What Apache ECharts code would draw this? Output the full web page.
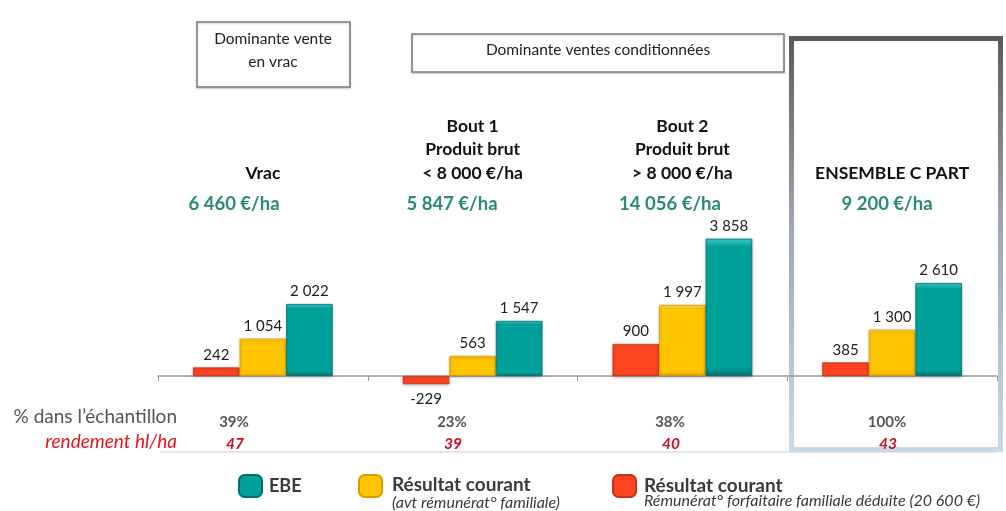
<!DOCTYPE html>
<html><head><meta charset="utf-8">
<script src="https://cdn.jsdelivr.net/npm/echarts@6/dist/echarts.min.js"></script>
<style>html,body{margin:0;padding:0;background:#fff}#c{width:1006px;height:511px}</style>
</head><body><div id="c"></div>
<script>
// ---- data ----
const categories = ['Vrac', 'Bout 1', 'Bout 2', 'Ensemble C part'];
const headers = ['Vrac', 'Bout 1\nProduit brut\n< 8 000 €/ha', 'Bout 2\nProduit brut\n> 8 000 €/ha', 'ENSEMBLE C PART'];
const produitBrut = ['6 460 €/ha', '5 847 €/ha', '14 056 €/ha', '9 200 €/ha'];
const ebe = [2022, 1547, 3858, 2610];
const resultatCourant = [1054, 563, 1997, 1300];
const resultatDeduit = [242, -229, 900, 385];
const pctEchantillon = ['39%', '23%', '38%', '100%'];
const rendement = ['47', '39', '40', '43'];
const groupTitles = ['Dominante vente\nen vrac', 'Dominante ventes conditionnées'];
const rowLabels = ['% dans l\u2019échantillon', 'rendement hl/ha'];
const names = { ebe: 'EBE', rc: 'Résultat courant', rd: 'Résultat courant (rémunération déduite)' };
const legendSub = { rc: '(avt rémunérat° familiale)', rd: 'Rémunérat° forfaitaire familiale déduite (20 600 €)' };

// ---- layout ----
const F = 'Lato, "Open Sans", sans-serif';
const W = 1006, H = 511;
const gridL = 158, gridR = 9, gridT = 233.6, gridB = 99.4;
const catW = (W - gridL - gridR) / categories.length;
const catX = i => gridL + (i + 0.5) * catW;
const colX = [234, 452, 670, 887];

const fmt = n => (n < 0 ? '-' : '') + String(Math.abs(n)).replace(/\B(?=(\d{3})+(?!\d))/g, ' ');

function barSeries(name, values, color, light, dark) {
  return {
    type: 'bar', name,
    data: values.map(v => ({ value: v, label: { position: v < 0 ? 'bottom' : 'top', distance: v < 0 ? 8 : 5 } })),
    barWidth: '22.2%', barGap: '0%',
    itemStyle: {
      color: { type: 'linear', x: 0, y: 0, x2: 0, y2: 1, colorStops: [
        { offset: 0, color: light }, { offset: 0.06, color: color },
        { offset: 0.94, color: color }, { offset: 1, color: dark }] },
      borderColor: dark, borderWidth: 0.8,
      shadowColor: 'rgba(0,0,0,0.25)', shadowBlur: 3, shadowOffsetY: 1
    },
    label: { show: true, formatter: p => fmt(p.value), fontFamily: F, fontSize: 15, color: '#222' }
  };
}

const graphic = [];
// group boxes
graphic.push({ type: 'rect', shape: { x: 197, y: 22, width: 153, height: 65 },
  style: { fill: '#fff', stroke: '#7d7d7d', lineWidth: 1.5, shadowColor: 'rgba(0,0,0,0.2)', shadowBlur: 2, shadowOffsetY: 1 } });
graphic.push({ type: 'text', x: 273, y: 50, style: { text: groupTitles[0], font: '15.5px ' + F, fill: '#222', align: 'center', verticalAlign: 'middle', lineHeight: 23 } });
graphic.push({ type: 'rect', shape: { x: 412, y: 34, width: 372, height: 38 },
  style: { fill: '#fff', stroke: '#7d7d7d', lineWidth: 1.5, shadowColor: 'rgba(0,0,0,0.2)', shadowBlur: 2, shadowOffsetY: 1 } });
graphic.push({ type: 'text', x: 598, y: 50, style: { text: groupTitles[1], font: '15.5px ' + F, fill: '#222', align: 'center', verticalAlign: 'middle' } });
// ensemble frame
graphic.push({ type: 'rect', z: -1, shape: { x: 791.5, y: 38.5, width: 209, height: 411 },
  style: { fill: 'none', lineWidth: 5, stroke: { type: 'linear', x: 0, y: 0, x2: 0, y2: 1, colorStops: [
    { offset: 0, color: '#5a5a5a' }, { offset: 0.45, color: '#a0a6ae' }, { offset: 1, color: '#c9d9ea' }] } } });
// bottom separator
graphic.push({ type: 'line', z: -2, shape: { x1: 160, y1: 452, x2: 997, y2: 452 }, style: { stroke: '#dcdcdc', lineWidth: 1.5 } });
// headers & produit brut & rows
headers.forEach((h, i) => {
  graphic.push({ type: 'text', x: catX(i), y: 185, style: { text: h, font: 'bold 17.5px ' + F, fill: '#111', align: 'center', verticalAlign: 'bottom', lineHeight: 23.5 } });
  graphic.push({ type: 'text', x: colX[i], y: 204, style: { text: produitBrut[i], font: 'bold 18.5px ' + F, fill: '#2a8a78', align: 'center', verticalAlign: 'middle' } });
  graphic.push({ type: 'text', x: colX[i], y: 422, style: { text: pctEchantillon[i], font: 'bold 15px ' + F, fill: '#555', align: 'center', verticalAlign: 'middle' } });
  graphic.push({ type: 'text', x: colX[i] + 1, y: 444, style: { text: rendement[i], font: 'italic bold 15.5px ' + F, fill: '#c8101e', align: 'center', verticalAlign: 'middle' } });
});
graphic.push({ type: 'text', x: 177, y: 417, style: { text: rowLabels[0], font: '19px ' + F, fill: '#555', align: 'right', verticalAlign: 'middle' } });
graphic.push({ type: 'text', x: 177, y: 442, style: { text: rowLabels[1], font: 'italic 19px ' + F, fill: '#e8141e', align: 'right', verticalAlign: 'middle' } });

const legendBase = { orient: 'horizontal', padding: 0, itemWidth: 23, itemHeight: 22, icon: 'roundRect', selectedMode: false, itemGap: 0 };
const richRc = {
  b: { fontFamily: F, fontWeight: 'bold', fontSize: 19, color: '#3a3a3a', lineHeight: 18 },
  i: { fontFamily: F, fontStyle: 'italic', fontSize: 16, color: '#3a3a3a', lineHeight: 18 }
};
const richRd = {
  b: { fontFamily: F, fontWeight: 'bold', fontSize: 19, color: '#3a3a3a', lineHeight: 15 },
  i: { fontFamily: F, fontStyle: 'italic', fontSize: 16, color: '#3a3a3a', lineHeight: 15 }
};

const option = {
  animation: false,
  backgroundColor: '#fff',
  grid: { left: gridL, right: gridR, top: gridT, bottom: gridB },
  xAxis: {
    type: 'category', data: categories,
    axisLine: { lineStyle: { color: '#9a9a9a', width: 1.5 } },
    axisTick: { show: true, length: 5, lineStyle: { color: '#9a9a9a' } },
    axisLabel: { show: false }
  },
  yAxis: { type: 'value', min: -1000, max: 4000, show: false, splitLine: { show: false } },
  legend: [
    Object.assign({}, legendBase, { left: 238, top: 474, data: [names.ebe],
      textStyle: { fontFamily: F, fontWeight: 'bold', fontSize: 18, color: '#3a3a3a', padding: [2, 0, 0, 2] } }),
    Object.assign({}, legendBase, { left: 358, top: 474, data: [names.rc],
      formatter: () => '{b|' + names.rc + '}\n{i|' + legendSub.rc + '}',
      textStyle: { rich: richRc, padding: [16, 0, 0, 5] } }),
    Object.assign({}, legendBase, { left: 612, top: 474, data: [names.rd],
      formatter: () => '{b|' + names.rc + '}\n{i|' + legendSub.rd + '}',
      textStyle: { rich: richRd, padding: [14, 0, 0, 3] } })
  ],
  graphic,
  series: [
    barSeries(names.rd, resultatDeduit, '#ff4422', '#ff8866', '#c8301a'),
    barSeries(names.rc, resultatCourant, '#ffc400', '#ffe060', '#d9a000'),
    barSeries(names.ebe, ebe, '#00a19b', '#40d0cc', '#00706c')
  ]
};
const chart = echarts.init(document.getElementById('c'), null, { renderer: 'canvas' });
chart.setOption(option);
</script></body></html>
